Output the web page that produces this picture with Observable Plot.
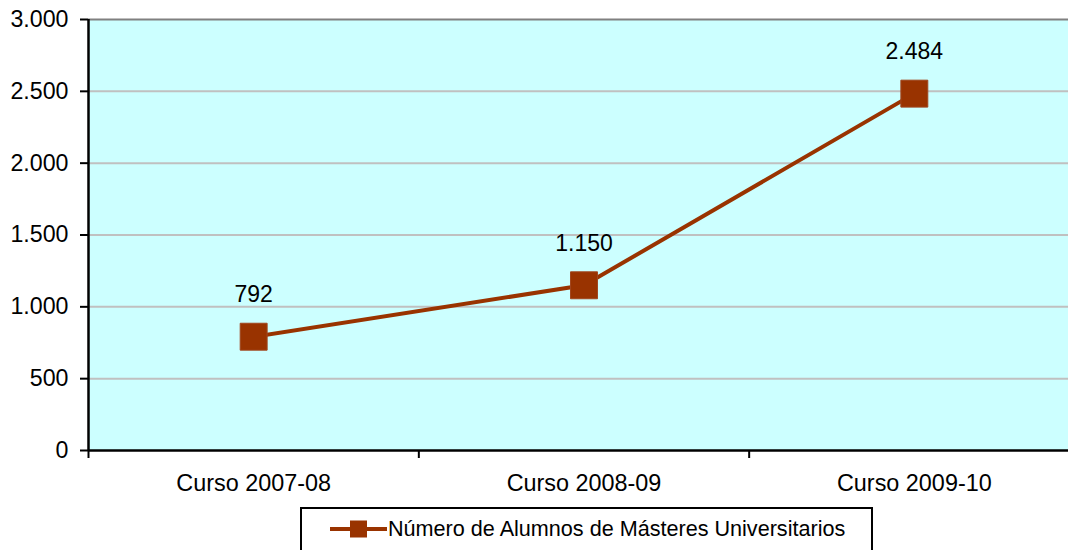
<!DOCTYPE html>
<html>
<head>
<meta charset="utf-8">
<script src="https://cdn.jsdelivr.net/npm/d3@7"></script>
<script src="https://cdn.jsdelivr.net/npm/@observablehq/plot@0.6"></script>
<style>
  html, body { margin: 0; padding: 0; background: #fff; }
  body { width: 1068px; height: 550px; overflow: hidden; font-family: "Liberation Sans", Arial, sans-serif; }
  #legend {
    position: absolute; left: 300px; top: 507px; width: 569px; height: 60px;
    border: 2px solid #000; box-sizing: content-box; background: #fff;
  }
  #legend svg { position: absolute; left: 26px; top: 8px; }
  #legend span { position: absolute; left: 86px; top: 7px; font-size: 21.6px; color: #000; white-space: nowrap; }
</style>
</head>
<body>
<div id="chart"></div>
<script>
const categories = ["Curso 2007-08", "Curso 2008-09", "Curso 2009-10"];
const values = [792, 1150, 2484];
const yTicks = [0, 500, 1000, 1500, 2000, 2500, 3000];
const seriesName = "Número de Alumnos de Másteres Universitarios";

const lineColor = "#993300";
const es = d3.formatLocale({decimal: ",", thousands: ".", grouping: [3], currency: ["", "€"]});
const fmt = es.format(",");

const data = categories.map((c, i) => ({i, cat: c, value: values[i]}));
const boundaries = d3.range(categories.length + 1).map(k => k - 0.5);

const plot = Plot.plot({
  width: 1068,
  height: 500,
  marginLeft: 88,
  marginRight: -11,
  marginTop: 19,
  marginBottom: 50,
  style: {fontFamily: "'Liberation Sans', Arial, sans-serif", fontSize: "23px", background: "#fff", color: "#000"},
  x: {type: "linear", domain: [-0.5, categories.length - 0.5]},
  y: {domain: [0, 3000]},
  marks: [
    Plot.frame({fill: "#CCFFFF", stroke: null}),
    Plot.ruleY(yTicks.filter(t => t > 0 && t < 3000), {stroke: "#C0C0C0", strokeWidth: 2}),
    Plot.ruleY([3000], {stroke: "#808080", strokeWidth: 2}),
    Plot.ruleY([0], {stroke: "#000", strokeWidth: 2.5}),
    Plot.ruleX([-0.5], {stroke: "#000", strokeWidth: 2.5}),
    Plot.axisY({ticks: yTicks, tickFormat: fmt, tickSize: 8, tickPadding: 12, strokeWidth: 2, fontSize: 23.2, label: null}),
    Plot.axisX({ticks: boundaries, tickFormat: () => "", tickSize: 8, strokeWidth: 2, label: null}),
    Plot.axisX({ticks: d3.range(categories.length), tickFormat: i => categories[i], tickSize: 0, tickPadding: 24, fontSize: 23.4, label: null}),
    Plot.line(data, {x: "i", y: "value", stroke: lineColor, strokeWidth: 4}),
    Plot.dot(data, {x: "i", y: "value", symbol: "square", r: 15.2, fill: lineColor, stroke: "#A0461E", strokeWidth: 1}),
    Plot.text(data, {x: "i", y: "value", text: d => fmt(d.value), dy: -42, fontSize: 23, fill: "#000", lineAnchor: "middle"})
  ]
});
document.getElementById("chart").appendChild(plot);

const legend = document.createElement("div");
legend.id = "legend";
legend.innerHTML = `<svg width="60" height="24"><line x1="2" x2="59" y1="12" y2="12" stroke="${lineColor}" stroke-width="4"/><rect x="22" y="3.5" width="17" height="17" fill="${lineColor}"/></svg><span>${seriesName}</span>`;
document.body.appendChild(legend);
</script>
</body>
</html>
